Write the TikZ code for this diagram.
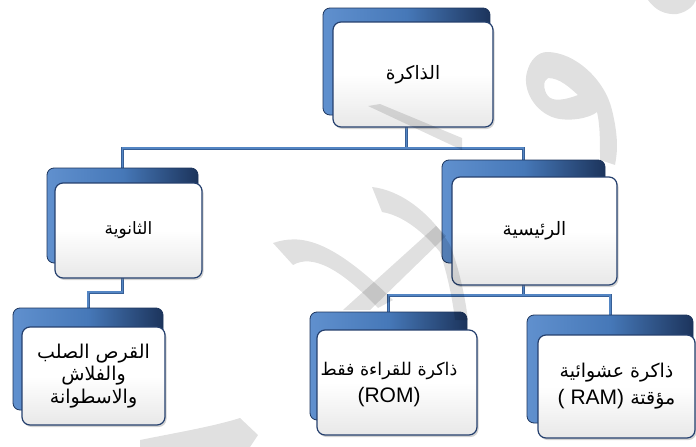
\documentclass[tikz,border=0pt]{standalone}
\usepackage{fontspec}
\newfontfamily\arabicfont[Script=Arabic]{DejaVu Sans}
\newfontfamily\latinfont{Liberation Sans}
\TeXXeTstate=1
\usetikzlibrary{shadows,backgrounds}
\definecolor{cardblue}{RGB}{70,120,184}
\definecolor{carddark}{RGB}{28,52,92}
\definecolor{cardlight}{RGB}{96,144,206}
\definecolor{frameblue}{RGB}{37,64,110}
\definecolor{linkblue}{RGB}{84,134,196}
\definecolor{linkedge}{RGB}{55,95,150}
\tikzset{
  backcard/.style={rounded corners=7pt, draw=carddark, line width=0.8pt,
    left color=cardlight, right color=carddark, middle color=cardblue, inner sep=0pt},
  frontcard/.style={rounded corners=8pt, draw=frameblue, line width=1.2pt,
    top color=white, bottom color=black!9, middle color=white,
    drop shadow={shadow xshift=1.5pt, shadow yshift=-2pt, opacity=0.35},
    inner sep=0pt, align=center, font=\arabicfont\fontsize{18.5}{24}\selectfont},
  fs/.style={font=\arabicfont\fontsize{#1}{27}\selectfont},
  tighttext/.style={font=\arabicfont\fontsize{19}{22.5}\selectfont},
  link/.style={draw=linkedge, double=linkblue, double distance=1.8pt, line width=0.6pt},
  wm/.style={fill=black, opacity=0.12}
}
\begin{document}
\begin{tikzpicture}[x=1pt,y=-1pt]
\useasboundingbox (0,0) rectangle (696,447);
% cards
\node[backcard, minimum width=167pt, minimum height=107pt] (topB) at (406.5,61.5) {};
\node[frontcard, minimum width=160pt, minimum height=105pt] (topF) at (413,74.5) {\beginR الذاكرة\endR};
\node[backcard, minimum width=151pt, minimum height=95pt] (leftB) at (122.5,215.5) {};
\node[frontcard, fs=17, minimum width=147pt, minimum height=95pt] (leftF) at (128.5,230.5) {\beginR الثانوية\endR};
\node[backcard, minimum width=163pt, minimum height=103pt] (rightB) at (523.5,211.5) {};
\node[frontcard, minimum width=165pt, minimum height=108pt] (rightF) at (534.5,231) {\beginR الرئيسية\endR};
\node[backcard, minimum width=150pt, minimum height=102pt] (blB) at (88,359) {};
\node[frontcard, tighttext, minimum width=143pt, minimum height=98pt] (blF) at (93.5,376)
  {\beginR القرص الصلب\endR\\ \beginR والفلاش\endR\\ \beginR والاسطوانة\endR};
\node[backcard, minimum width=157pt, minimum height=108pt] (romB) at (388.5,366) {};
\node[frontcard, minimum width=160pt, minimum height=105pt,
  label={[fs=17.5, align=center, xshift=-8pt, yshift=-2pt]center:\beginR ذاكرة للقراءة فقط\endR\\ {\latinfont\fontsize{21}{27}\selectfont (ROM)}}] (romF) at (397,382.5) {};
\node[backcard, minimum width=166pt, minimum height=108pt] (ramB) at (610,369) {};
\node[frontcard, fs=19, minimum width=157pt, minimum height=103pt] (ramF) at (616.5,386.5)
  {\beginR ذاكرة عشوائية\endR\\ \beginR مؤقتة \beginL{\latinfont\fontsize{21}{27}\selectfont( RAM)}\endL\endR};
% connectors
\coordinate (bus1) at (0,148);
\coordinate (bus2) at (0,295);
\coordinate (bus3) at (0,292);
\begin{pgfonlayer}{background}
\draw[link] (topB.south) -- (topB.south |- bus1);
\draw[link] (leftB.north) |- (topB.south |- bus1) -| (rightB.north);
\draw[link] (rightB.south) -- (rightB.south |- bus2);
\draw[link] (romB.north) |- (rightB.south |- bus2) -| (ramB.north);
\draw[link] (leftB.south) |- (blB.north |- bus3) -- (blB.north);
\end{pgfonlayer}
% watermark
\fill[wm, even odd rule] (547,52) .. controls (575,52) and (605,80) .. (612,110)
  .. controls (618,135) and (618,150) .. (615,165) -- (600,160)
  .. controls (600,140) and (600,125) .. (597,112)
  .. controls (590,118) and (570,122) .. (555,118)
  .. controls (535,112) and (522,90) .. (527,72)
  .. controls (530,60) and (538,52) .. (547,52) -- cycle
  (548,78) .. controls (560,78) and (570,88) .. (578,95)
  .. controls (565,100) and (553,102) .. (548,96)
  .. controls (543,90) and (543,80) .. (548,78) -- cycle;
\fill[wm] (648,0) .. controls (655,10) and (665,15) .. (677,14)
  .. controls (688,12) and (694,5) .. (696,0) -- cycle;
\fill[wm] (368,106) -- (380,104) -- (462,138) -- (462,150) -- cycle;
\fill[wm] (372,187) .. controls (400,190) and (430,212) .. (450,245)
  .. controls (458,265) and (465,295) .. (468,320) -- (455,320)
  .. controls (452,295) and (446,270) .. (440,252)
  .. controls (420,228) and (400,215) .. (382,212) -- cycle;
\fill[wm] (343,310) -- (370,310) -- (446,236) -- (436,226) -- cycle;
\fill[wm] (273,243) .. controls (300,234) and (330,238) .. (393,300)
  -- (378,308) .. controls (340,268) and (312,254) .. (293,265) -- cycle;
\fill[wm] (140,447) -- (140,440) .. controls (180,432) and (215,426) .. (240,418)
  -- (258,435) -- (250,447) -- cycle;
\end{tikzpicture}
\end{document}
